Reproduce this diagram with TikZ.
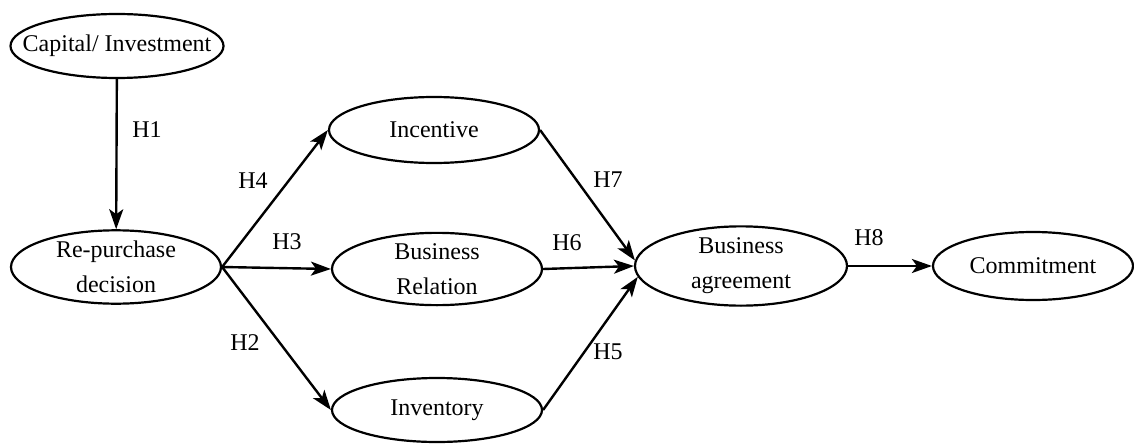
\documentclass[tikz,border=0pt]{standalone}
\usepackage{fontspec}
\setmainfont{Liberation Serif}
\usetikzlibrary{arrows.meta,shapes.geometric}
\tikzset{
  construct/.style={ellipse,draw,line width=1.1pt,inner sep=0pt,minimum width=105pt,minimum height=33pt,align=center,font=\fontsize{12}{17.5}\selectfont},
  hyp/.style={-{Stealth[length=10pt,width=7pt,inset=2.5pt]},line width=1.2pt},
  hlabel/.style={font=\fontsize{12}{14}\selectfont,inner sep=1pt}
}

\begin{document}
\begin{tikzpicture}[x=0.5pt,y=-0.5pt]
\useasboundingbox (0,0) rectangle (1134,444);
% constructs
\node[construct,minimum height=32pt,inner xsep=-9.5pt] (capital) at (117,46) {Capital/ Investment};
\node[construct,minimum height=34pt] (repurchase) at (116,267) {Re-purchase\\decision};
\node[construct] (incentive) at (434,130) {Incentive};
\node[construct,minimum height=34pt] (relation) at (437,269) {Business\\Relation};
\node[construct,minimum height=32pt] (inventory) at (437,410) {Inventory};
\node[construct,minimum width=106pt,minimum height=35pt] (agreement) at (741,266) {Business\\agreement};
\node[construct,minimum width=100pt,minimum height=34pt] (commitment) at (1033,266) {Commitment};
% hypotheses
\draw[hyp] (capital) -- (repurchase);
\draw[hyp] (repurchase.east) -- (incentive.west);
\draw[hyp] (repurchase.east) -- (relation.west);
\draw[hyp] (repurchase.east) -- (inventory.west);
\draw[hyp] (incentive.east) -- (agreement.177);
\draw[hyp] (relation.east) -- (agreement.west);
\draw[hyp] (inventory.east) -- (agreement.186);
\draw[hyp] (agreement.east) -- (commitment.west);
% labels
\node[hlabel] (h1) at (147,130) {H1};
\node[hlabel] (h4) at (253,181) {H4};
\node[hlabel] (h3) at (287,242) {H3};
\node[hlabel] (h2) at (245,343) {H2};
\node[hlabel] (h7) at (608,180) {H7};
\node[hlabel] (h6) at (567,243) {H6};
\node[hlabel] (h5) at (608,352) {H5};
\node[hlabel] (h8) at (869,238) {H8};
\end{tikzpicture}
\end{document}
